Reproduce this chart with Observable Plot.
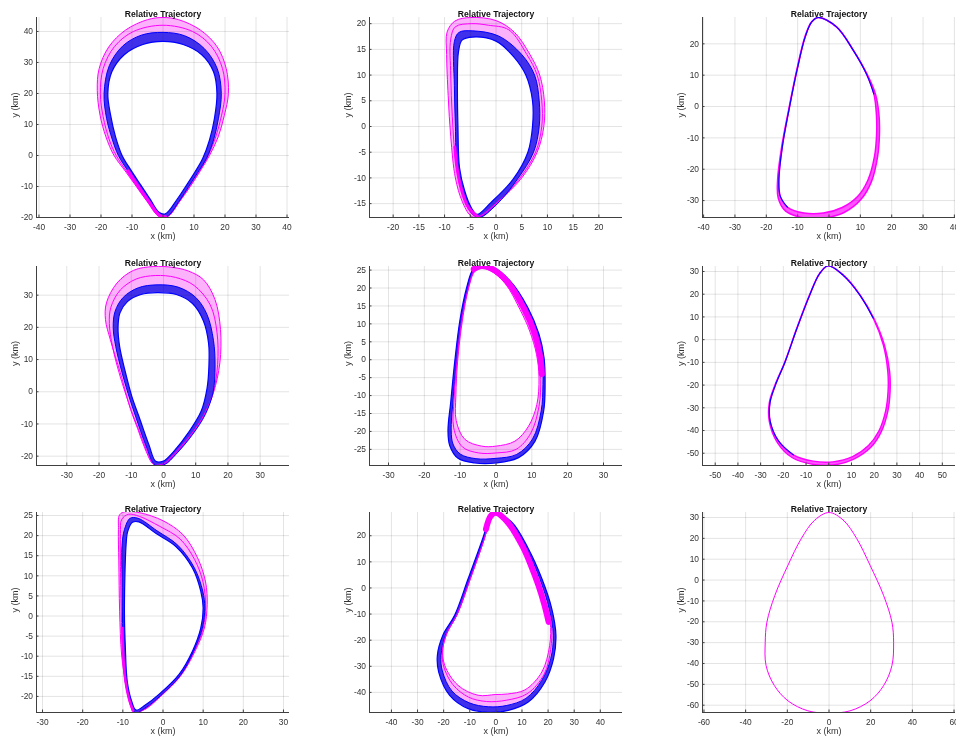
<!DOCTYPE html>
<html><head><meta charset="utf-8">
<script src="https://cdn.jsdelivr.net/npm/d3@7"></script>
<script src="https://cdn.jsdelivr.net/npm/@observablehq/plot@0.6"></script>
<style>
html,body{margin:0;padding:0;background:#fff;overflow:hidden}
#fig{position:relative;width:956px;height:742px;overflow:hidden;background:#fff}
#fig svg{position:absolute}
</style></head><body><div id="fig"></div>
<script>
// ---------------- text ----------------
const titleText = "Relative Trajectory";
const xLabel = "x (km)";
const yLabel = "y (km)";

// ---------------- axis limits & ticks ----------------
const p1xd = [-40.8, 40.8], p1yd = [-20, 44.5];
const p2xd = [-24.6, 24.6], p2yd = [-17.7, 21.2];
const p3xd = [-40.35, 40.35], p3yd = [-35.4, 28.4];
const p4xd = [-39.4, 39.1], p4yd = [-22.9, 38.9];
const p5xd = [-35.3, 35.3], p5yd = [-29.5, 26];
const p6xd = [-55.6, 55.8], p6yd = [-55.4, 32.2];
const p7xd = [-31.5, 31.5], p7yd = [-24, 25.75];
const p8xd = [-48.4, 48.5], p8yd = [-47.7, 28.9];
const p9xd = [-60.7, 60.7], p9yd = [-63.5, 32.4];

const p1xt = [-40,-30,-20,-10,0,10,20,30,40], p1yt = [-20,-10,0,10,20,30,40];
const p2xt = [-20,-15,-10,-5,0,5,10,15,20], p2yt = [-15,-10,-5,0,5,10,15,20];
const p3xt = [-40,-30,-20,-10,0,10,20,30,40], p3yt = [-30,-20,-10,0,10,20];
const p4xt = [-30,-20,-10,0,10,20,30], p4yt = [-20,-10,0,10,20,30];
const p5xt = [-30,-20,-10,0,10,20,30], p5yt = [-25,-20,-15,-10,-5,0,5,10,15,20,25];
const p6xt = [-50,-40,-30,-20,-10,0,10,20,30,40,50], p6yt = [-50,-40,-30,-20,-10,0,10,20,30];
const p7xt = [-30,-20,-10,0,10,20,30], p7yt = [-20,-15,-10,-5,0,5,10,15,20,25];
const p8xt = [-40,-30,-20,-10,0,10,20,30,40], p8yt = [-40,-30,-20,-10,0,10,20];
const p9xt = [-60,-40,-20,0,20,40,60], p9yt = [-60,-50,-40,-30,-20,-10,0,10,20,30];

// ---------------- trajectories (km) ----------------
const p1Outer = [[1.5,-19.7],[5.6,-14.5],[8.8,-10],[12,-5],[15,0],[17.8,6],[19.8,13],[21.1,20],[20.4,28],[17.5,35],[12,40.5],[5,43.8],[0,44.5],[-5,43.8],[-12,40.5],[-17.5,35],[-20.6,28],[-21.2,21],[-20.3,13],[-18.4,6],[-15.8,0],[-12.2,-5],[-8.6,-10],[-5,-15],[-1.5,-19.5]];
const p1Mid = [[1.4,-19.7],[5.5,-14.5],[8.6,-10],[11.7,-5.2],[14.6,0],[17,6],[18.9,13],[20,20],[19.2,28],[15.6,35.2],[9.5,40],[0,42],[-9.5,40],[-15.6,35.2],[-19.3,28],[-20.2,20],[-19.3,12.5],[-17.3,5],[-15.1,0],[-11.8,-5],[-8.3,-10],[-4.8,-15],[-1.2,-19.5]];
const p1BlueOut = [[1.3,-19.7],[5.3,-14.6],[8.3,-10],[11.2,-5.5],[14,-1],[16.3,5],[17.9,12],[18.8,20],[17.5,28],[13.3,34.5],[7,38.6],[0,39.7],[-7,38.8],[-13,35.3],[-17.3,29],[-19,20],[-18.2,12],[-16.3,5],[-14.4,0],[-11.3,-5],[-8,-10],[-4.6,-14.8],[-1,-19.5]];
const p1BlueIn = [[0.8,-18.8],[4.5,-14.2],[7.3,-10],[10.2,-5.5],[12.8,-1],[15,5],[16.6,12],[17.4,20],[16.3,27],[12.5,32.5],[6.5,35.8],[0,36.8],[-6.5,35.8],[-12.5,32.5],[-16.5,27],[-17.8,20],[-16.9,13],[-15.3,6],[-13.2,0],[-10.5,-4.5],[-7.2,-9.5],[-4.2,-14],[-1.3,-18.3]];
const p1MagLow = [[-11.3,-5],[-8,-10],[-4.6,-14.8],[-1.2,-19.3],[0.8,-19.8]];

const p2Outer = [[-3.8,-17.7],[0.5,-14.5],[5,-10],[8,-5],[9.3,0],[9.4,5],[8.5,10],[6.6,14],[3.6,18.3],[0,20.6],[-4.9,21.2],[-8,20.5],[-9.5,18.4],[-9.6,14],[-9.3,6],[-8.8,-2],[-7.9,-10],[-6.6,-14.5],[-5,-17.3]];
const p2Mid = [[-3.6,-17.6],[0.3,-14.8],[4.6,-10.1],[7.7,-5],[8.9,0],[8.9,5],[8,10],[6,14],[2.5,18.8],[-1.5,19.7],[-4.7,20],[-7.9,19.4],[-8.8,17],[-8.8,10],[-8.5,2],[-7.8,-7],[-6.6,-12.5],[-5.1,-16.5]];
const p2BlueOut = [[-3.3,-17.7],[0,-15.3],[4.2,-10.2],[7.3,-5],[8.4,0],[8.4,5],[7.5,10],[5,14],[0.5,17.6],[-4.5,18.6],[-7.2,18.3],[-8.1,16.5],[-8.1,8],[-7.9,0],[-7.6,-8],[-6.7,-12.5],[-5,-16.5]];
const p2BlueIn = [[-3.7,-17.1],[-1,-14.8],[3.3,-10.3],[6.2,-5],[7.1,0],[7.1,5],[5.8,10],[3.5,13.5],[0,16.6],[-4.5,17.4],[-6.6,16.8],[-7.3,14.5],[-7.5,8],[-7.4,0],[-7.1,-8],[-6.1,-12.5],[-4.8,-15.8]];
const p2MagLow = [[-3.5,-17.6],[-5.5,-15.5],[-6.8,-12],[-7.6,-8],[-8,-4]];

const p3Loop = [[-3.4,28.4],[2.4,25.4],[7.7,18],[11.9,10.5],[14.3,4.1],[15.1,-2.2],[15.2,-8.6],[14.5,-16],[12.4,-23.5],[9.2,-28.6],[4.2,-32.2],[-1.8,-34],[-8,-34],[-13.2,-32.2],[-15.5,-28.8],[-16,-23.5],[-14.9,-12.9],[-12.8,-1.2],[-10.2,11.6],[-7.6,22.2],[-5.5,27]];
const p3Band = [[-3.4,28.4],[2.5,25.3],[7.8,17.9],[12.1,10.4],[14.8,4],[15.9,-2.2],[16.1,-8.6],[15.5,-16],[13.6,-23.8],[10.3,-29.5],[4.8,-33.8],[-1.8,-35.6],[-8.3,-35.5],[-13.9,-33.3],[-16.2,-29.2],[-16.4,-23.5],[-15.1,-12.9],[-12.9,-1.2],[-10.3,11.6],[-7.7,22.2],[-5.6,27]];
const p3Blue = [[-13.2,-32.2],[-15.6,-28.5],[-16,-23.5],[-14.9,-12.9],[-12.8,-1.2],[-10.2,11.6],[-7.6,22.2],[-5.5,27],[-3.4,28.4],[2.4,25.4],[7.7,18],[11.9,10.5],[14.3,4]];

const p4Outer = [[-3,-22.6],[-5.6,-18],[-8,-11.5],[-10.2,-5.5],[-13.4,5.9],[-16.5,16.2],[-18,22.4],[-17.7,27.6],[-14.4,33.8],[-9.3,37.7],[-3.1,38.9],[3,38.6],[7.7,37.5],[12.4,34.8],[16,28.6],[17.7,19.3],[17.5,9],[15.5,-0.3],[12.4,-7.5],[8.2,-13.7],[3.1,-19.4],[0,-22.4]];
const p4Mid = [[-2.9,-22.6],[-5.5,-17.5],[-7.8,-11.5],[-10,-5.8],[-13.8,6],[-15.8,14],[-16.8,21.2],[-16.3,26.3],[-13.4,31.6],[-8.5,35],[-2.5,36.1],[3.8,35.5],[9.5,33],[14.5,27],[16.6,18.5],[16.8,8.5],[15.4,-0.3],[12.6,-7.3],[8.5,-13.5],[3.4,-19.5],[0.2,-22.4]];
const p4BlueOut = [[-2.6,-22.7],[-5.4,-16.8],[-8.6,-7.8],[-11,-0.5],[-13,6.5],[-14.8,14],[-15.6,20],[-15,25],[-12.5,29.3],[-7.8,32.3],[-2,33.2],[4.5,32.5],[10,29.3],[13.5,24],[15.5,16],[16,8],[15.4,0],[13,-7],[9,-13.3],[3.8,-19.5],[0.5,-22.5]];
const p4BlueIn = [[-2.4,-21.6],[-4.5,-16.5],[-7.5,-8],[-9.8,-1.5],[-11.8,6],[-13.6,14],[-14.1,20],[-13.5,24.5],[-11.2,28],[-7,30.2],[-2,30.8],[4,30.2],[9,27.4],[12.4,22],[14,15],[14.1,8],[13.5,1],[11.7,-6],[8,-12.3],[3.2,-18.5],[0,-21.5]];

const p5Outer = [[-4.5,26.2],[-1,25.9],[4,21.9],[8.9,14.5],[12,7.1],[13.4,0.6],[13.7,-6.9],[13.3,-14.3],[10.9,-22.7],[6.3,-27.3],[0,-28.8],[-5.9,-28.8],[-10.6,-27.5],[-12.9,-24],[-13.4,-19.9],[-12.6,-11.5],[-11.5,-0.4],[-10.1,10.8],[-8.2,20.1],[-6.4,25.2]];
const p5BlueIn = [[-4.5,25.8],[-1.2,25.5],[3.6,21.6],[8.5,14.3],[11.6,7],[12.9,0.6],[13.1,-6.9],[12.6,-14.3],[10.2,-22.1],[5.8,-26.4],[0,-27.5],[-5.6,-27.6],[-10,-26.3],[-12,-23.5],[-12.5,-19.9],[-12,-11.5],[-11,-0.4],[-9.7,10.8],[-7.8,20.1],[-6,25]];
const p5Mid = [[-4.3,25.7],[-1.4,25.2],[3,21.4],[7.6,14.2],[10.6,7.6],[12.1,1],[12.5,-5.5],[12,-13],[9.7,-20.5],[5.6,-25],[0,-26],[-4.8,-26],[-9.4,-24.3],[-11.8,-19],[-11.7,-11],[-10.9,-0.4],[-9.6,10.8],[-7.7,20.1],[-6,25]];
const p5Inner = [[-4.3,25.5],[-1.5,24.8],[2.6,21.2],[6.7,14],[9.4,8],[11.3,1.5],[12,-5],[11.4,-12.5],[9.1,-18.5],[5.3,-22.7],[0,-24.1],[-4,-24.1],[-8.7,-22.2],[-11.1,-17],[-11.2,-10],[-10.7,-0.4],[-9.4,10.8],[-7.6,20.1],[-6,24.5]];
const p5MagBand = [[-6.2,25.3],[-4.4,26.1],[-1.2,25.4],[3.3,21.6],[7.8,14.3],[10.7,7.6],[12.3,1],[12.8,-4]];

const p6Loop = [[-0.3,32.5],[6.3,28.4],[13.7,19.6],[19.6,9.4],[24,-2.3],[26,-14.1],[26.1,-22.8],[25,-31.6],[22,-40.4],[17.5,-46.6],[10.5,-51.5],[1.9,-53.8],[-6.9,-53.5],[-15.6,-50.7],[-22.2,-44.5],[-25.8,-36],[-25.9,-27.8],[-23.5,-20],[-19.2,-9.7],[-14,5],[-8.4,19.6],[-4,29.1]];
const p6Band = [[-0.3,32.5],[6.4,28.4],[13.9,19.5],[19.9,9.3],[24.5,-2.3],[26.8,-14.1],[27,-22.8],[26,-31.6],[23.1,-40.6],[18.5,-47.4],[11,-52.6],[1.9,-55.2],[-6.9,-54.9],[-16,-52],[-22.7,-45.2],[-26.2,-36],[-26.2,-27.8],[-23.7,-20],[-19.3,-9.7],[-14.1,5],[-8.5,19.6],[-4.1,29.1]];
const p6Blue = [[-15.6,-50.7],[-22.2,-44.5],[-25.8,-36],[-25.9,-27.8],[-23.5,-20],[-19.2,-9.7],[-14,5],[-8.4,19.6],[-4,29.1],[-0.3,32.5],[6.3,28.4],[13.7,19.6],[19.6,9.4]];

const p7Outer = [[-7.2,-24],[-4.3,-23.1],[-0.5,-19.9],[4.4,-14.9],[7.9,-8.9],[10.3,-3],[11,2.8],[10.6,8.5],[8.6,14.5],[5,20.2],[0,23.7],[-5.8,25.7],[-9.2,26],[-10.8,25.2],[-11.1,21.5],[-11,13.7],[-10.8,1.2],[-10.3,-9.7],[-9.1,-18],[-8,-22.6]];
const p7Mid = [[-7,-24],[-4.3,-23],[-0.6,-19.8],[4.3,-14.8],[7.7,-8.9],[10,-3],[10.6,2.5],[10,8.3],[7.9,14],[4.2,19.2],[-0.8,22.3],[-5.9,24.8],[-8.6,25.3],[-10.3,24],[-10.6,20.5],[-10.6,13.7],[-10.4,1.2],[-10,-9.7],[-9,-18],[-7.9,-22.6]];
const p7BlueOut = [[-6.9,-24],[-4.3,-22.8],[-0.6,-19.8],[4.3,-14.8],[7.6,-8.8],[9.8,-3],[10.4,2],[9.9,6.2],[7.8,12],[3.7,17.6],[-1.5,21.2],[-6.2,24.3],[-8.2,24.3],[-9.6,21.5],[-10.2,17.6],[-10.2,9.5],[-10.1,0],[-9.9,-7.2],[-9.4,-16.3],[-8.2,-21.4]];
const p7BlueIn = [[-6.7,-23.4],[-4.5,-22.2],[-0.8,-19.3],[4,-14.5],[7.3,-8.8],[9.4,-3],[10,2],[9.4,6.2],[7.3,12],[3.2,17.3],[-1.7,20.5],[-6,23.4],[-7.6,23.3],[-8.8,21],[-9.2,17.6],[-9.5,9.5],[-9.6,0],[-9.4,-7.2],[-8.9,-16.3],[-7.8,-21.2]];
const p7MagLow = [[-10.1,-3],[-9.9,-9.7],[-9.3,-16.5],[-8.5,-20.5],[-7.5,-23.5]];

const p8Outer = [[-1,28.9],[6,25.3],[12.4,15.1],[17.6,3.6],[21.4,-7.9],[23,-18.1],[22.1,-27.1],[18.8,-36],[12.4,-43.7],[4.7,-46.9],[-2.9,-47.6],[-10.6,-46.2],[-17.7,-41.1],[-21.9,-32.2],[-22.4,-25.8],[-20.3,-18.1],[-15.8,-10.5],[-10.6,3.6],[-5.5,17.6],[-2.9,25.3]];
const p8BlueIn = [[-1,28.4],[5.5,25],[11.8,15],[16.8,3.6],[20.4,-7.9],[22,-18.1],[21,-27.1],[17.5,-35.5],[11.5,-42.3],[4.2,-45],[-2.9,-45.5],[-10.2,-44],[-16.8,-39.5],[-20.5,-31.8],[-21,-25.8],[-19.2,-18.1],[-15,-10.5],[-9.9,3.6],[-4.9,17.6],[-2.4,25.3]];
const p8Mid = [[-0.7,28.5],[4.8,25.1],[10.8,15.1],[15.8,3.6],[19.5,-6.5],[21.3,-14.5],[21,-23.5],[18.5,-33],[12,-40.5],[4,-43],[-3.5,-43.5],[-10.5,-41.8],[-16.5,-37],[-20,-30],[-20.5,-24.5],[-18.8,-17.5],[-14.8,-10],[-9.8,3.6],[-4.8,17.6],[-2.4,25.3]];
const p8Inner = [[-0.4,28.4],[4.1,25],[9.9,15.1],[15,3.6],[18.8,-5.4],[20.8,-13],[20.6,-22],[17.6,-32.2],[11.2,-39],[4.5,-40.6],[0,-40.8],[-6.8,-41.1],[-14.5,-37.3],[-19.6,-29.6],[-20.3,-23.2],[-18.6,-17],[-14.5,-9.5],[-9.7,3.6],[-4.8,17.6],[-2.4,25.3]];
const p8MagBand = [[-3.8,22.5],[-2,27.5],[0,28.8],[4.5,25.2],[10.2,16],[13.5,8.5],[16.3,1],[18.6,-6.5],[20.2,-13]];

const p9Loop = [[0,32.4],[6.9,28.7],[13.3,19.9],[19.7,7.1],[26.2,-7.4],[30.2,-20.2],[31,-29.8],[30.2,-41],[26.2,-50.6],[19.7,-57.9],[10.1,-62.7],[0,-63.8],[-10.1,-62.7],[-19.7,-57.9],[-26.2,-50.6],[-30.2,-41],[-30.6,-29.8],[-29.8,-20.2],[-26,-7.4],[-19.7,7.1],[-13.3,19.9],[-6.9,28.7]];

// ---------------- styles ----------------
const BLUE = "#0000ff", MAG = "#ff00ff";
const BAND_BLUE = "#4030ec", BAND_PINK = "#fbb2fb", BAND_MAG = "#ff55ff", WHITE = "#ffffff";
const AXIS = "#404040", GRID = "#e4e4e4";
const FONT = "'Liberation Sans', Arial, Helvetica, sans-serif";

const panels = [
  {xd:p1xd, yd:p1yd, xt:p1xt, yt:p1yt,
   fills:[[p1Outer,BAND_PINK],[p1BlueOut,BAND_BLUE],[p1BlueIn,WHITE]],
   strokes:[[p1Outer,MAG,1,true],[p1Mid,MAG,1,true],[p1BlueOut,BLUE,1,true],[p1BlueIn,BLUE,1.2,true],[p1MagLow,MAG,3.2,false]]},
  {xd:p2xd, yd:p2yd, xt:p2xt, yt:p2yt,
   fills:[[p2Outer,BAND_PINK],[p2BlueOut,BAND_BLUE],[p2BlueIn,WHITE]],
   strokes:[[p2Outer,MAG,1,true],[p2Mid,MAG,1,true],[p2BlueOut,BLUE,1,true],[p2BlueIn,BLUE,1.2,true],[p2MagLow,MAG,3,false]]},
  {xd:p3xd, yd:p3yd, xt:p3xt, yt:p3yt,
   fills:[[p3Band,BAND_MAG],[p3Loop,WHITE]],
   strokes:[[p3Band,MAG,1.5,true],[p3Loop,MAG,1.5,true],[p3Blue,BLUE,1.1,false]]},
  {xd:p4xd, yd:p4yd, xt:p4xt, yt:p4yt,
   fills:[[p4Outer,BAND_PINK],[p4BlueOut,BAND_BLUE],[p4BlueIn,WHITE]],
   strokes:[[p4Outer,MAG,1,true],[p4Mid,MAG,1,true],[p4BlueOut,BLUE,1,true],[p4BlueIn,BLUE,1.2,true]]},
  {xd:p5xd, yd:p5yd, xt:p5xt, yt:p5yt,
   fills:[[p5Outer,BAND_BLUE],[p5BlueIn,BAND_PINK],[p5Inner,WHITE]],
   strokes:[[p5Outer,BLUE,1.2,true],[p5BlueIn,BLUE,1,true],[p5Mid,MAG,1,true],[p5Inner,MAG,1,true],[p5MagBand,MAG,6,false]]},
  {xd:p6xd, yd:p6yd, xt:p6xt, yt:p6yt,
   fills:[[p6Band,BAND_MAG],[p6Loop,WHITE]],
   strokes:[[p6Band,MAG,1.4,true],[p6Loop,MAG,1.4,true],[p6Blue,BLUE,1.1,false]]},
  {xd:p7xd, yd:p7yd, xt:p7xt, yt:p7yt,
   fills:[[p7Outer,BAND_PINK],[p7BlueOut,BAND_BLUE],[p7BlueIn,WHITE]],
   strokes:[[p7Outer,MAG,1,true],[p7Mid,MAG,1,true],[p7BlueOut,BLUE,1,true],[p7BlueIn,BLUE,1.2,true],[p7MagLow,MAG,2.5,false]]},
  {xd:p8xd, yd:p8yd, xt:p8xt, yt:p8yt,
   fills:[[p8Outer,BAND_BLUE],[p8BlueIn,BAND_PINK],[p8Inner,WHITE]],
   strokes:[[p8Outer,BLUE,1.2,true],[p8BlueIn,BLUE,1,true],[p8Mid,MAG,1,true],[p8Inner,MAG,1,true],[p8MagBand,MAG,6,false]]},
  {xd:p9xd, yd:p9yd, xt:p9xt, yt:p9yt,
   fills:[],
   strokes:[[p9Loop,MAG,1,true]]}
];

// plot-box rectangles in page pixels [left, top, right, bottom]
const frames = [
  [36,17,289,217],[369,17,622,217],[702,17,955,217],
  [36,266,289,465],[369,266,622,465],[702,266,955,465],
  [36,512,289,712],[369,512,622,712],[702,512,955,712]
];

const fig = document.getElementById("fig");
const X = d => d[0], Y = d => d[1];
const fmt = d => String(d);

panels.forEach((p, i) => {
  const [fx0, fy0, fx1, fy1] = frames[i];
  const mL = 44, mR = 34, mT = 22, mB = 34;
  const fw = fx1 - fx0, fh = fy1 - fy0;
  const marks = [];
  for (const [data, color] of p.fills)
    marks.push(Plot.line(data, {x: X, y: Y, curve: "catmull-rom-closed", fill: color, stroke: "none", clip: true}));
  marks.push(Plot.ruleX(p.xt, {stroke: GRID, mixBlendMode: "multiply"}));
  marks.push(Plot.ruleY(p.yt, {stroke: GRID, mixBlendMode: "multiply"}));
  for (const [data, color, w, closed] of p.strokes)
    marks.push(Plot.line(data, {x: X, y: Y, curve: closed ? "catmull-rom-closed" : "catmull-rom",
      stroke: color, strokeWidth: w, strokeLinecap: "round", strokeLinejoin: "round", clip: true}));
  marks.push(Plot.ruleX([p.xd[0]], {stroke: AXIS}));
  marks.push(Plot.ruleY([p.yd[0]], {stroke: AXIS}));
  marks.push(Plot.ruleX(p.xt, {stroke: AXIS, insetTop: fh - 2.5}));
  marks.push(Plot.ruleY(p.yt, {stroke: AXIS, insetRight: fw - 2.5}));
  marks.push(Plot.axisX(p.xt, {tickSize: 0, tickPadding: 6.5, tickFormat: fmt, fontSize: 8.4, label: null}));
  marks.push(Plot.axisY(p.yt, {tickSize: 0, tickPadding: 3.5, tickFormat: fmt, fontSize: 8.4, label: null}));
  marks.push(Plot.text([titleText], {frameAnchor: "top", dy: -6.5, fontWeight: "bold", fontSize: 8.6, fill: "#111"}));
  marks.push(Plot.text([xLabel], {frameAnchor: "bottom", dy: 21, fontSize: 9, fill: "#333"}));
  marks.push(Plot.text([yLabel], {frameAnchor: "left", dx: -21, rotate: -90, fontSize: 9, fill: "#333"}));
  const svg = Plot.plot({
    width: fw + mL + mR, height: fh + mT + mB,
    marginLeft: mL, marginRight: mR, marginTop: mT, marginBottom: mB,
    x: {domain: p.xd}, y: {domain: p.yd},
    style: {fontFamily: FONT, color: "#333", background: "transparent", overflow: "visible"},
    marks
  });
  svg.style.left = (fx0 - mL) + "px";
  svg.style.top = (fy0 - mT) + "px";
  fig.append(svg);
});
</script></body></html>
